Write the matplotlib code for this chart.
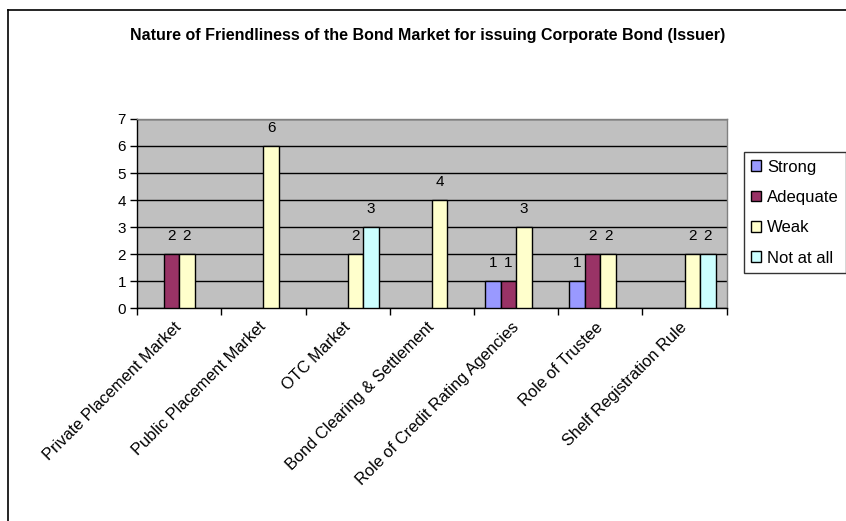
import matplotlib
matplotlib.use("Agg")
import matplotlib.pyplot as plt
from matplotlib.lines import Line2D
import numpy as np

plt.rcParams['font.family'] = ['Liberation Sans', 'DejaVu Sans']

categories = ["Private Placement Market", "Public Placement Market", "OTC Market",
              "Bond Clearing & Settlement", "Role of Credit Rating Agencies",
              "Role of Trustee", "Shelf Registration Rule"]
series_names = ["Strong", "Adequate", "Weak", "Not at all"]
strong = [0, 0, 0, 0, 1, 1, 0]
adequate = [2, 0, 0, 0, 1, 2, 0]
weak = [2, 6, 2, 4, 3, 2, 2]
not_at_all = [0, 0, 3, 0, 0, 0, 2]
title = "Nature of Friendliness of the Bond Market for issuing Corporate Bond (Issuer)"

colors = ["#9999FF", "#993366", "#FFFFCC", "#CCFFFF"]

fig = plt.figure(figsize=(8.46, 5.21), dpi=100)
ax = fig.add_axes([0.162, 0.4088, 0.697, 0.3628])
ax.set_facecolor("#C0C0C0")

x = np.arange(len(categories))
width = 0.184
handles = []
for k, (vals, name, col) in enumerate(zip([strong, adequate, weak, not_at_all], series_names, colors)):
    pos = x + (k - 1.5) * width
    for xi, v in zip(pos, vals):
        if v == 0:
            continue  # blank cells: no bar, no label
        ax.bar(xi, v, width, color=col, edgecolor="black", linewidth=1, zorder=3)
        ax.annotate(str(v), (xi, v), xytext=(0, 8), textcoords="offset points",
                    ha="center", va="bottom", fontsize=11)
    handles.append(plt.Rectangle((0, 0), 1, 1, facecolor=col, edgecolor="black", linewidth=1))

ax.set_xlim(-0.5, len(categories) - 0.5)
ax.set_ylim(0, 7)
ax.set_yticks(range(0, 8))
ax.yaxis.grid(True, color="black", linewidth=1, zorder=1)
ax.set_axisbelow(True)

ax.set_xticks(np.arange(-0.5, len(categories), 1.0))
ax.set_xticklabels([])
ax.set_xticks(x, minor=True)
ax.set_xticklabels(categories, minor=True, rotation=45, ha="right", va="center",
                   rotation_mode="anchor", fontsize=11.8)
ax.tick_params(axis="x", which="minor", length=0, pad=12)
ax.tick_params(axis="x", which="major", length=5, width=1, direction="out")
ax.tick_params(axis="y", length=5, width=1, direction="out", labelsize=11, pad=3)

for side in ["top", "right"]:
    ax.spines[side].set_color("#808080")
    ax.spines[side].set_linewidth(1)
for side in ["left", "bottom"]:
    ax.spines[side].set_color("black")
    ax.spines[side].set_linewidth(1)

fig.text(0.505, 0.932, title, ha="center", va="center", fontsize=11.5, fontweight="bold")

leg = fig.legend(handles, series_names, loc="upper left", bbox_to_anchor=(0.879, 0.708),
                 fontsize=12, frameon=True, fancybox=False, handlelength=0.6,
                 handleheight=0.6, handletextpad=0.35, labelspacing=0.92,
                 borderpad=0.45, borderaxespad=0)
leg.get_frame().set_edgecolor("black")
leg.get_frame().set_linewidth(1)

# chart area border (top and left edges)
fig.add_artist(Line2D([7.5 / 846, 1.0], [1 - 9.5 / 521, 1 - 9.5 / 521], color="black", linewidth=1.2))
fig.add_artist(Line2D([7.5 / 846, 7.5 / 846], [0.0, 1 - 9.5 / 521], color="black", linewidth=1.2))

fig.savefig("out.png", dpi=100)
